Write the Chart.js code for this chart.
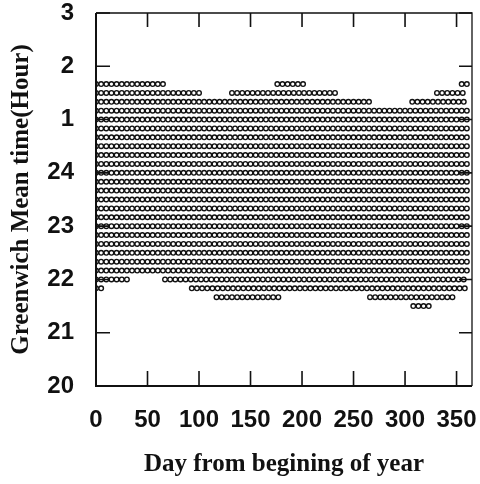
<!DOCTYPE html>
<html>
<head>
<meta charset="utf-8">
<script src="https://cdn.jsdelivr.net/npm/chart.js@4.4.1/dist/chart.umd.min.js"></script>
<style>
  html, body { margin: 0; padding: 0; background: #ffffff; }
  #wrap { width: 480px; height: 484px; }
</style>
</head>
<body>
<div id="wrap"><canvas id="c" width="480" height="484"></canvas></div>
<script>
// Observation rows: GMT hour (values above 24 are past midnight: 25 = 1h, 26 = 2h ...)
const rowTimes = [
  25.667, 25.5, 25.333, 25.167, 25.0, 24.833, 24.667, 24.5, 24.333, 24.167,
  24.0, 23.833, 23.667, 23.5, 23.333, 23.167, 23.0, 22.833, 22.667, 22.5,
  22.333, 22.167, 22.0, 21.833, 21.667, 21.5
];
// Day ranges (from, to) covered by each row
const rowSegments = [
  [[0, 65], [176, 205], [355, 360]],   // 1:40
  [[0, 100], [132, 235], [331, 360]],  // 1:30
  [[0, 268], [307, 360]],              // 1:20
  [[0, 360]], [[0, 360]], [[0, 360]], [[0, 360]], [[0, 360]], [[0, 360]], [[0, 360]],
  [[0, 360]], [[0, 360]], [[0, 360]], [[0, 360]], [[0, 360]], [[0, 360]], [[0, 360]],
  [[0, 360]], [[0, 360]], [[0, 360]], [[0, 360]], [[0, 360]], // 1:10 ... 22:10
  [[0, 31], [67, 360]],                // 22:00
  [[0, 5], [93, 360]],                 // 21:50
  [[117, 177], [266, 350]],            // 21:40
  [[308, 326]]                         // 21:30
];
const sampleEveryDays = 5;
const xTickValues = [0, 50, 100, 150, 200, 250, 300, 350];
const yTickValues = [20, 21, 22, 23, 24, 25, 26, 27];
const yTickLabels = ['20', '21', '22', '23', '24', '1', '2', '3'];

const points = [];
rowTimes.forEach((t, i) => {
  rowSegments[i].forEach(([a, b]) => {
    for (let d = a; d <= b; d += sampleEveryDays) points.push({ x: d, y: t });
  });
});

const frame = {
  id: 'frame',
  afterDatasetsDraw(chart) {
    const { ctx, chartArea: ca, scales } = chart;
    const xs = scales.x, ys = scales.y;
    ctx.save();
    ctx.strokeStyle = '#111';
    ctx.lineWidth = 2;
    ctx.beginPath();
    ctx.moveTo(ca.left, ca.top); ctx.lineTo(ca.left, ca.bottom); ctx.lineTo(ca.right, ca.bottom);
    ctx.stroke();
    ctx.lineWidth = 1.3;
    ctx.beginPath();
    ctx.moveTo(ca.left, ca.top); ctx.lineTo(ca.right, ca.top); ctx.lineTo(ca.right, ca.bottom);
    ctx.stroke();
    ctx.lineWidth = 1.6;
    ctx.beginPath();
    xTickValues.forEach(v => {
      const px = xs.getPixelForValue(v);
      ctx.moveTo(px, ca.bottom); ctx.lineTo(px, ca.bottom - 15);
      ctx.moveTo(px, ca.top); ctx.lineTo(px, ca.top + 14);
    });
    yTickValues.forEach(v => {
      const py = ys.getPixelForValue(v);
      ctx.moveTo(ca.left, py); ctx.lineTo(ca.left + 14, py);
      ctx.moveTo(ca.right, py); ctx.lineTo(ca.right - 13, py);
    });
    ctx.stroke();
    ctx.restore();
  }
};

const tickFont = { family: "'Liberation Sans', Arial, sans-serif", weight: 'bold', size: 24 };
const titleFont = { family: "'Liberation Serif', 'Times New Roman', serif", weight: 'bold', size: 25 };

new Chart(document.getElementById('c'), {
  type: 'scatter',
  data: {
    datasets: [{
      data: points,
      pointStyle: 'circle',
      pointRadius: 2.3,
      pointBorderWidth: 1.4,
      borderColor: '#111',
      backgroundColor: '#fff'
    }]
  },
  options: {
    responsive: false,
    animation: false,
    events: [],
    layout: { padding: 0 },
    plugins: { legend: { display: false }, tooltip: { enabled: false } },
    scales: {
      x: {
        type: 'linear',
        min: 0, max: 365,
        afterBuildTicks: s => { s.ticks = xTickValues.map(v => ({ value: v })); },
        afterFit: s => { s.height = 98; s.paddingLeft = 0; s.paddingRight = 8; },
        grid: { display: false },
        border: { display: false },
        ticks: { color: '#111', font: tickFont, padding: 12, maxRotation: 0 },
        title: { display: true, text: 'Day from begining of year', color: '#111', font: titleFont, padding: { top: 4, bottom: 4 } }
      },
      y: {
        type: 'linear',
        min: 20, max: 27,
        afterBuildTicks: s => { s.ticks = yTickValues.map(v => ({ value: v })); },
        afterFit: s => { s.width = 96; s.paddingTop = 13; s.paddingBottom = 0; },
        grid: { display: false },
        border: { display: false },
        ticks: {
          color: '#111', font: tickFont, padding: 14,
          callback: v => yTickLabels[yTickValues.indexOf(v)]
        },
        title: { display: true, text: 'Greenwich Mean time(Hour)', color: '#111', font: titleFont, padding: { top: 7, bottom: 7 } }
      }
    }
  },
  plugins: [frame]
});
</script>
</body>
</html>
